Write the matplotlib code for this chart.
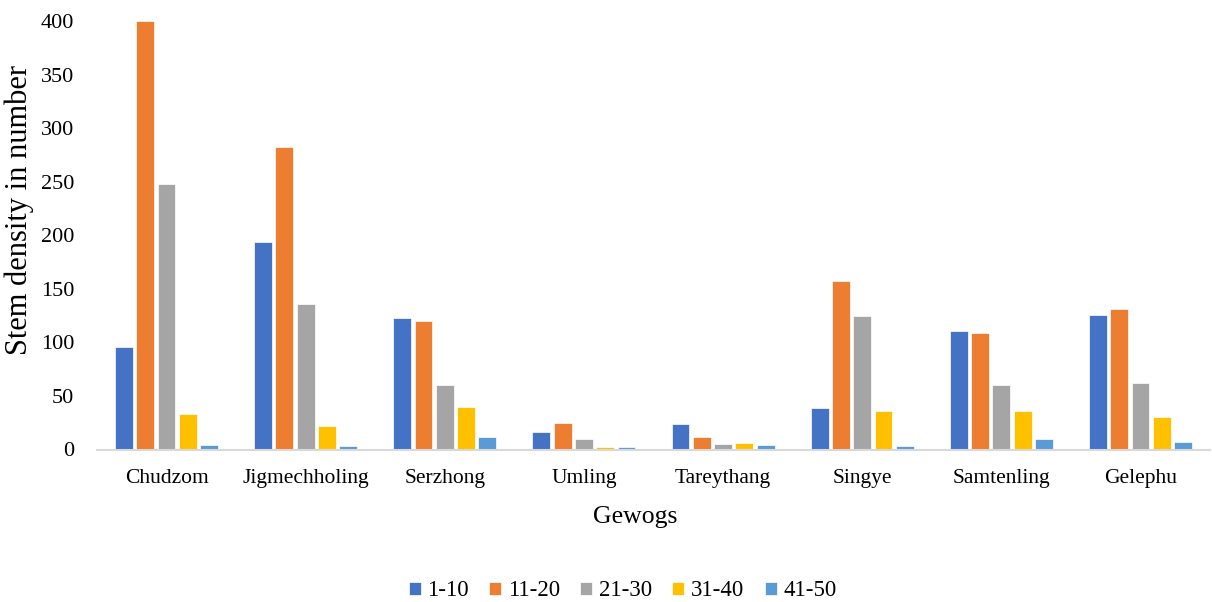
import matplotlib
matplotlib.use("Agg")
import matplotlib.pyplot as plt
import numpy as np

categories = ["Chudzom", "Jigmechholing", "Serzhong", "Umling", "Tareythang", "Singye", "Samtenling", "Gelephu"]
series_names = ["1-10", "11-20", "21-30", "31-40", "41-50"]
s1_10 = [96, 194, 123, 16, 24, 39, 111, 126]
s11_20 = [400, 282, 120, 25, 12, 157, 109, 131]
s21_30 = [248, 136, 60, 10, 5, 125, 60, 62]
s31_40 = [33, 22, 40, 2, 6, 36, 36, 30]
s41_50 = [4, 3, 12, 2, 4, 3, 10, 7]
colors = ["#4472C4", "#ED7D31", "#A5A5A5", "#FFC000", "#5B9BD5"]

plt.rcParams['font.family'] = ['Liberation Serif', 'DejaVu Serif']

fig = plt.figure(figsize=(12.12, 6.02), dpi=100)
ax = fig.add_axes([97/1212, 1 - 449.5/602, (1210-97)/1212, (449.5-21)/602])

data = [s1_10, s11_20, s21_30, s31_40, s41_50]
x = np.arange(len(categories))
slot = 0.153
bw = 0.128
for i, (vals, name, c) in enumerate(zip(data, series_names, colors)):
    ax.bar(x + (i - 2) * slot, vals, width=bw, color=c, label=name,
           edgecolor="white", linewidth=0.5, zorder=2)

ax.set_xlim(-0.5, len(categories) - 0.5)
ax.set_ylim(0, 400)
ax.set_yticks(range(0, 401, 50))
ax.set_xticks(x)
ax.set_xticklabels(categories)
for s in ["top", "right", "left"]:
    ax.spines[s].set_visible(False)
ax.spines["bottom"].set_color("#D9D9D9")
ax.spines["bottom"].set_linewidth(1.5)
ax.spines["bottom"].set_zorder(3)
ax.tick_params(axis="both", length=0)
ax.tick_params(axis="y", pad=16.5, labelsize=16)
ax.tick_params(axis="x", pad=14, labelsize=15.5)
ax.set_ylabel("Stem density in number", fontsize=22, va="center")
ax.yaxis.set_label_coords(19/1212, 1 - 210/602, transform=fig.transFigure)
ax.set_xlabel("Gewogs", fontsize=18.5, va="center")
ax.xaxis.set_label_coords(635/1212, 1 - 517/602, transform=fig.transFigure)

leg = ax.legend(loc="center", bbox_to_anchor=(622.5/1212, 1 - 591/602),
                bbox_transform=fig.transFigure, ncol=5, frameon=False,
                fontsize=16.5, handlelength=0.52, handleheight=0.52,
                handletextpad=0.28, columnspacing=0.9, borderpad=0)

fig.savefig("out.png", dpi=100, facecolor="white")
